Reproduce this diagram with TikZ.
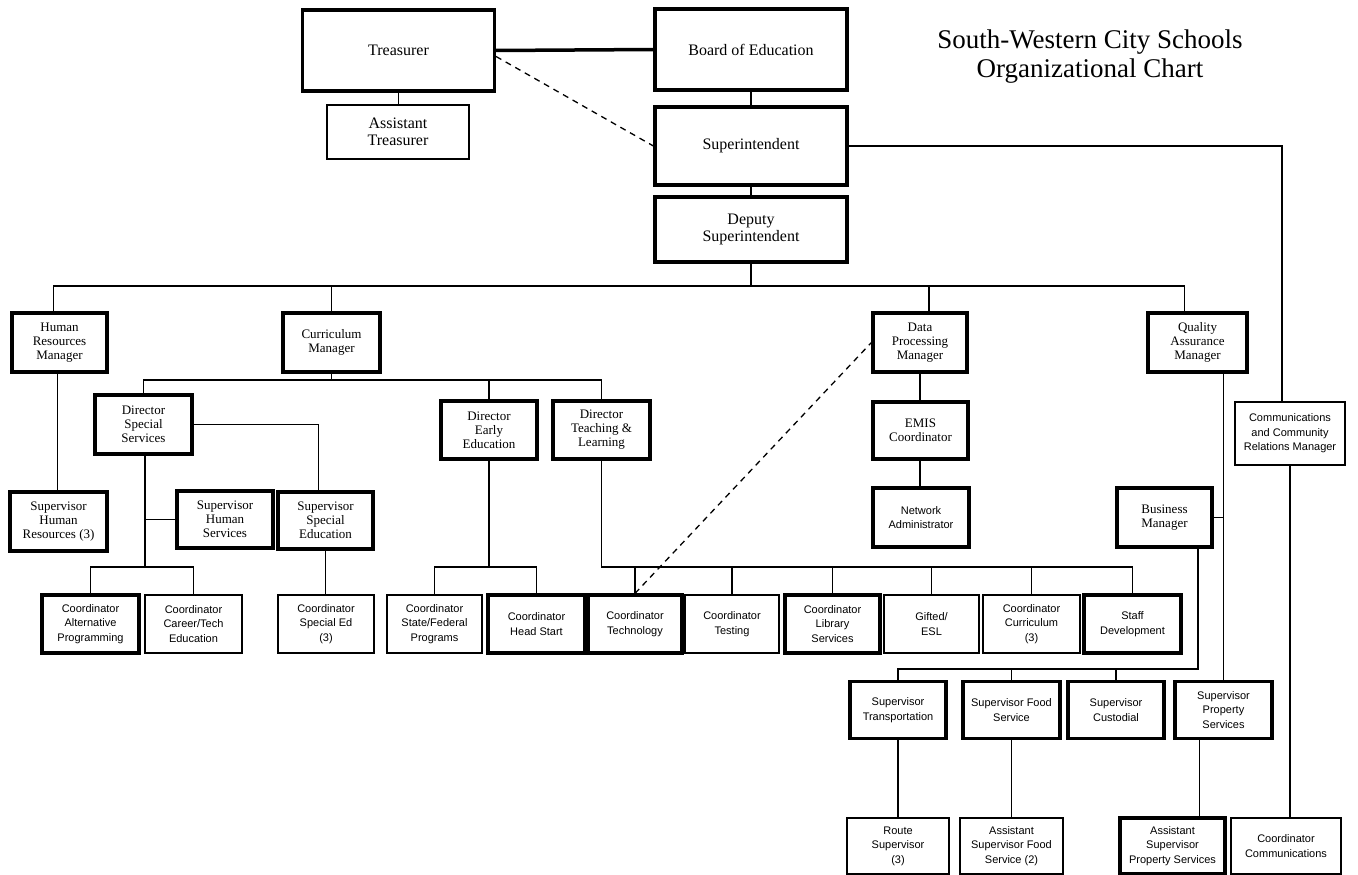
\documentclass[tikz,border=0pt]{standalone}
\usepackage{fontspec}
\setmainfont{Liberation Serif}
\newfontfamily\sansf{Liberation Sans}
\begin{document}
\begin{tikzpicture}[x=1pt,y=-1pt,
  bx/.style={draw, align=center, inner sep=1pt, fill=white},
  wh/.style 2 args={minimum width=#1, minimum height=#2},
  tk/.style={bx, line width=3.2pt},
  md/.style={bx, line width=2.2pt},
  tn/.style={bx, line width=1.6pt},
  big/.style={font=\fontsize{16}{17}\selectfont},
  mid/.style={font=\fontsize{13}{14}\selectfont},
  sm/.style={font=\sansf\fontsize{11}{14.5}\selectfont},
  ln/.style={line width=1.3pt},
  dl/.style={line width=1.3pt, dash pattern=on 6pt off 5pt}]
\useasboundingbox (0,0) rectangle (1358,875);
\fill[white] (0,0) rectangle (1358,875);
% title
\node[font=\fontsize{27}{29}\selectfont, align=center] (title) at (1090,57) {South-Western City Schools\\Organizational Chart};
% top
\node[tk, big, wh={192}{81}] (trea) at (398.5,50.5) {Treasurer};
\node[tn, big, wh={142}{54}] (atrea) at (398,132) {Assistant\\Treasurer};
\node[tk, big, wh={192}{81}] (board) at (751,49.5) {Board of Education};
\node[tk, big, wh={192}{78}] (super) at (751,146) {Superintendent};
\node[tk, big, wh={192}{65}] (deputy) at (751,229.5) {Deputy\\Superintendent};
% level 2
\node[tk, mid, wh={95}{59}] (hrm) at (59.5,342.5) {Human\\Resources\\Manager};
\node[tk, mid, wh={97}{59}] (cur) at (331.5,342.5) {Curriculum\\Manager};
\node[tk, mid, wh={94}{59}] (dpm) at (920,342.5) {Data\\Processing\\Manager};
\node[tk, mid, wh={99}{59}] (qam) at (1197.5,342.5) {Quality\\Assurance\\Manager};
% level 3
\node[tk, mid, wh={97}{59}] (dss) at (143.5,424.5) {Director\\Special\\Services};
\node[tk, mid, wh={96}{58}] (dee) at (489,430) {Director\\Early\\Education};
\node[tk, mid, wh={97}{58}] (dtl) at (601.5,430) {Director\\Teaching \&\\Learning};
\node[tk, mid, wh={95}{57}] (emis) at (920.5,430.5) {EMIS\\Coordinator};
\node[md, sm, wh={110}{63}] (comm) at (1290,433.5) {Communications\\and Community\\Relations Manager};
% level 4
\node[tk, mid, wh={97}{59}] (shr) at (58.5,521.5) {Supervisor\\Human\\Resources (3)};
\node[tk, mid, wh={96}{57}] (shs) at (225,519.5) {Supervisor\\Human\\Services};
\node[tk, mid, wh={95}{57}] (sse) at (325.5,520.5) {Supervisor\\Special\\Education};
\node[tk, sm, wh={96}{59}] (net) at (921,517.5) {Network\\Administrator};
\node[tk, mid, wh={95}{59}] (busm) at (1164.5,517.5) {Business\\Manager};
% bottom row
\node[tk, sm, wh={97}{58}] (calt) at (90.5,624) {Coordinator\\Alternative\\Programming};
\node[md, sm, wh={97}{58}] (ccar) at (193.5,624) {Coordinator\\Career/Tech\\Education};
\node[md, sm, wh={96}{58}] (cspe) at (326,624) {Coordinator\\Special Ed\\(3)};
\node[md, sm, wh={95}{58}] (csf) at (434.5,624) {Coordinator\\State/Federal\\Programs};
\node[tk, sm, wh={97}{58}] (chs) at (536.5,624) {Coordinator\\Head Start};
\node[tk, sm, wh={94}{58}] (ctech) at (635,624) {Coordinator\\Technology};
\node[md, sm, wh={94}{58}] (ctest) at (732,624) {Coordinator\\Testing};
\node[tk, sm, wh={95}{58}] (clib) at (832.5,624) {Coordinator\\Library\\Services};
\node[md, sm, wh={95}{58}] (cgift) at (931.5,624) {Gifted/\\ESL};
\node[md, sm, wh={97}{58}] (ccur) at (1031.5,624) {Coordinator\\Curriculum\\(3)};
\node[tk, sm, wh={97}{58}] (cstaff) at (1132.5,624) {Staff\\Development};
% supervisors
\node[tk, sm, wh={96}{57}] (strans) at (898,710) {Supervisor\\Transportation};
\node[tk, sm, wh={97}{57}] (sfood) at (1011.5,710) {Supervisor Food\\Service};
\node[tk, sm, wh={96}{57}] (scust) at (1116,710) {Supervisor\\Custodial};
\node[tk, sm, wh={97}{57}] (sprop) at (1223.5,710) {Supervisor\\Property\\Services};
% last row
\node[md, sm, wh={102}{56}] (route) at (898,846) {Route\\Supervisor\\(3)};
\node[md, sm, wh={103}{56}] (afood) at (1011.5,846) {Assistant\\Supervisor Food\\Service (2)};
\node[tk, sm, wh={105}{56}] (aprop) at (1172.5,846) {Assistant\\Supervisor\\Property Services};
\node[md, sm, wh={110}{56}] (ccomm) at (1286,846) {Coordinator\\Communications};
% connectors top
\draw[line width=3.5pt] (trea.east) -- (board.west);
\draw[ln] (trea.south) -- (atrea.north -| trea.south);
\draw[ln] (board.south) -- (super.north);
\draw[ln] (super.south) -- (deputy.north);
\draw[dl] ([yshift=-6pt]trea.east) -- (super.west);
\draw[ln] (super.east) -| ([xshift=-8pt]comm.north);
\draw[ln] (comm.south) -- (comm.south |- ccomm.north);
% main bus
\coordinate (mb) at (751,286);
\draw[ln] (deputy.south) -- (mb);
\draw[ln] ([xshift=-6pt]hrm.north) |- (mb) -| ([xshift=-13pt]qam.north);
\draw[ln] (cur.north) -- (cur.north |- mb);
\draw[ln] ([xshift=9pt]dpm.north) -- ([xshift=9pt]dpm.north |- mb);
% HR
\draw[ln] ([xshift=-2pt]hrm.south) -- ([xshift=-2pt]hrm.south |- shr.north);
% curriculum
\coordinate (cb) at (331.5,380);
\draw[ln] (cur.south) -- (cb);
\draw[ln] (dss.north) |- (cb) -| (dtl.north);
\draw[ln] (dee.north) -- (dee.north |- cb);
\draw[ln] (dss.east) -| ([xshift=-7pt]sse.north);
\coordinate (db) at (145,567);
\draw[ln] (dss.south -| db) -- (db);
\draw[ln] (calt.north) |- (db) -| (ccar.north);
\draw[ln] (shs.west) -- (shs.west -| db);
\draw[ln] (sse.south) -- (sse.south |- cspe.north);
\coordinate (eb) at (489,567);
\draw[ln] (dee.south) -- (eb);
\draw[ln] (csf.north) |- (eb) -| (chs.north);
\coordinate (tb) at (601.5,567);
\draw[ln] (dtl.south) -- (tb) -| (cstaff.north);
\foreach \n in {ctech,ctest,clib,cgift,ccur} \draw[ln] (\n.north) -- (\n.north |- tb);
\draw[dl] (ctech.north) -- (dpm.west);
% data processing
\draw[ln] (dpm.south) -- (dpm.south |- emis.north);
\draw[ln] (dpm.south |- emis.south) -- (dpm.south |- net.north);
% quality assurance
\draw[ln] (qam.south -| sprop.north) -- (sprop.north);
\draw[ln] (busm.east) -- (busm.east -| sprop.north);
\coordinate (bb) at (1198,669);
\draw[ln] ([xshift=33.5pt]busm.south) -- (bb) -| (strans.north);
\draw[ln] (sfood.north) -- (sfood.north |- bb);
\draw[ln] (scust.north) -- (scust.north |- bb);
\draw[ln] (strans.south) -- (route.north);
\draw[ln] (sfood.south) -- (afood.north);
\draw[ln] ([xshift=-24pt]sprop.south) -- ([xshift=-24pt]sprop.south |- aprop.north);
\end{tikzpicture}
\end{document}
